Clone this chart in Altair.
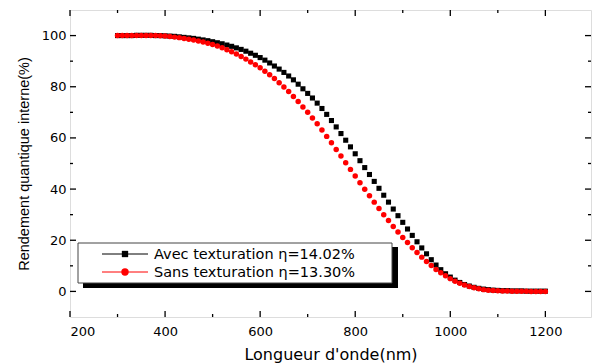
import altair as alt
import pandas as pd

# ---------------- data ----------------
wavelength = list(range(300, 1201, 10))

avec = [100.0, 100.0, 100.0, 100.0, 100.1, 100.1, 100.1, 100.1, 100.0, 100.0,
        99.9, 99.8, 99.7, 99.5, 99.3, 99.1, 98.9, 98.6, 98.3, 98.0,
        97.6, 97.2, 96.8, 96.3, 95.8, 95.2, 94.6, 93.9, 93.1, 92.3,
        91.4, 90.4, 89.3, 88.1, 86.9, 85.6, 84.2, 82.7, 81.0, 79.2,
        77.4, 75.6, 73.6, 71.5, 69.2, 66.8, 64.3, 61.7, 59.1, 56.5,
        53.8, 51.1, 48.4, 45.7, 43.0, 40.3, 37.6, 34.9, 32.2, 29.6,
        27.0, 24.4, 21.9, 19.4, 17.0, 14.7, 12.4, 10.3, 8.5, 6.9,
        5.6, 4.4, 3.5, 2.7, 2.1, 1.6, 1.2, 0.9, 0.7, 0.5,
        0.4, 0.3, 0.3, 0.2, 0.2, 0.2, 0.1, 0.1, 0.1, 0.1,
        0.1]

sans = [100.0, 100.0, 100.0, 100.0, 100.0, 100.0, 100.0, 100.0, 100.0, 99.9,
        99.8, 99.6, 99.4, 99.2, 98.9, 98.6, 98.3, 97.9, 97.5, 97.0,
        96.5, 95.9, 95.2, 94.5, 93.7, 92.8, 91.8, 90.8, 89.7, 88.6,
        87.4, 86.1, 84.7, 83.2, 81.6, 79.9, 78.1, 76.2, 74.2, 72.1,
        70.0, 67.8, 65.5, 63.1, 60.6, 58.1, 55.5, 52.9, 50.3, 47.7,
        45.1, 42.5, 39.9, 37.4, 34.9, 32.4, 30.0, 27.7, 25.4, 23.2,
        21.1, 19.1, 17.1, 15.2, 13.4, 11.7, 10.1, 8.6, 7.3, 6.1,
        5.0, 4.0, 3.2, 2.5, 1.9, 1.4, 1.0, 0.7, 0.5, 0.4,
        0.3, 0.2, 0.2, 0.1, 0.1, 0.1, 0.1, 0.0, 0.0, 0.0,
        0.0]

legend_labels = ["Avec texturation \u03b7=14.02%", "Sans texturation \u03b7=13.30%"]

x_major = [200, 400, 600, 800, 1000, 1200]
x_minor = [300, 500, 700, 900, 1100]
y_major = [0, 20, 40, 60, 80, 100]
y_minor = [10, 30, 50, 70, 90]

x_title = "Longueur d'onde(nm)"
y_title = "Rendement quantique interne(%)"

# ---------------- layout ----------------
W, H = 521, 307
FONT = "DejaVu Sans"

df_a = pd.DataFrame({"wl": wavelength, "v": avec})
df_s = pd.DataFrame({"wl": wavelength, "v": sans})

xscale = alt.Scale(domain=[200, 1296], nice=False, zero=False)
yscale = alt.Scale(domain=[-10, 110], nice=False, zero=False)

x_axis = alt.Axis(values=x_major, format="d", title=x_title, tickSize=0, domain=False, grid=False,
                  labelPadding=8, labelFont=FONT, labelFontSize=13, labelColor="black",
                  titleFont=FONT, titleFontSize=16, titleFontWeight="normal",
                  titleColor="black", titlePadding=8)
y_axis = alt.Axis(values=y_major, format="d", title=y_title, tickSize=0, domain=False, grid=False,
                  labelPadding=4, labelFont=FONT, labelFontSize=13, labelColor="black",
                  titleFont="Liberation Sans", titleFontSize=14.5, titleFontWeight="normal",
                  titleColor="black", titlePadding=10)

X = lambda f: alt.X(f, type="quantitative", scale=xscale, axis=x_axis)
Y = lambda f: alt.Y(f, type="quantitative", scale=yscale, axis=y_axis)

pts_a = alt.Chart(df_a).mark_point(shape="square", filled=True, color="black", size=26, opacity=1).encode(
    x=X("wl"), y=Y("v"))
pts_s = alt.Chart(df_s).mark_point(shape="circle", filled=True, color="#ff0000", size=30, opacity=1).encode(
    x=X("wl"), y=Y("v"))

# inward ticks on all four sides
def xticks(vals, length):
    d = pd.DataFrame({"t": vals})
    bottom = alt.Chart(d).mark_rule(color="black", strokeWidth=1.3).encode(
        x=X("t"), y=alt.value(H), y2=alt.value(H - length))
    top = alt.Chart(d).mark_rule(color="black", strokeWidth=1.3).encode(
        x=X("t"), y=alt.value(0), y2=alt.value(length))
    return [bottom, top]

def yticks(vals, length):
    d = pd.DataFrame({"t": vals})
    left = alt.Chart(d).mark_rule(color="black", strokeWidth=1.3).encode(
        y=Y("t"), x=alt.value(0), x2=alt.value(length))
    right = alt.Chart(d).mark_rule(color="black", strokeWidth=1.3).encode(
        y=Y("t"), x=alt.value(W), x2=alt.value(W - length))
    return [left, right]

ticks = xticks(x_major, 6) + xticks(x_minor, 3) + yticks(y_major, 6) + yticks(y_minor, 3)

# legend box with drop shadow
one = pd.DataFrame({"k": [0]})
shadow = alt.Chart(one).mark_rect(color="black").encode(
    x=alt.value(13), x2=alt.value(328), y=alt.value(237), y2=alt.value(278))
box = alt.Chart(one).mark_rect(fill="white", stroke="#444444", strokeWidth=1).encode(
    x=alt.value(8), x2=alt.value(322), y=alt.value(233), y2=alt.value(273))

leg_y = [244, 262]
leg_items = []
for i, (lab, col, shp, sz) in enumerate(zip(legend_labels, ["black", "#ff0000"],
                                            ["square", "circle"], [40, 55])):
    leg_items.append(alt.Chart(one).mark_rule(color=col, strokeWidth=1).encode(
        x=alt.value(32), x2=alt.value(78), y=alt.value(leg_y[i])))
    leg_items.append(alt.Chart(one).mark_point(shape=shp, filled=True, color=col, size=sz, opacity=1).encode(
        x=alt.value(55), y=alt.value(leg_y[i])))
    leg_items.append(alt.Chart(one).mark_text(text=lab, align="left", baseline="middle",
                                              font=FONT, fontSize=14.5, color="black").encode(
        x=alt.value(84), y=alt.value(leg_y[i] + 1)))

chart = alt.layer(*ticks, pts_a, pts_s, shadow, box, *leg_items).properties(
    width=W, height=H,
    autosize=alt.AutoSizeParams(type="none"),
    padding={"left": 70, "top": 10, "right": 1, "bottom": 46},
).configure_view(stroke="black", strokeWidth=1.5).configure(background="white")

chart.save("out.html", embed_options={"renderer": "svg", "actions": False})
